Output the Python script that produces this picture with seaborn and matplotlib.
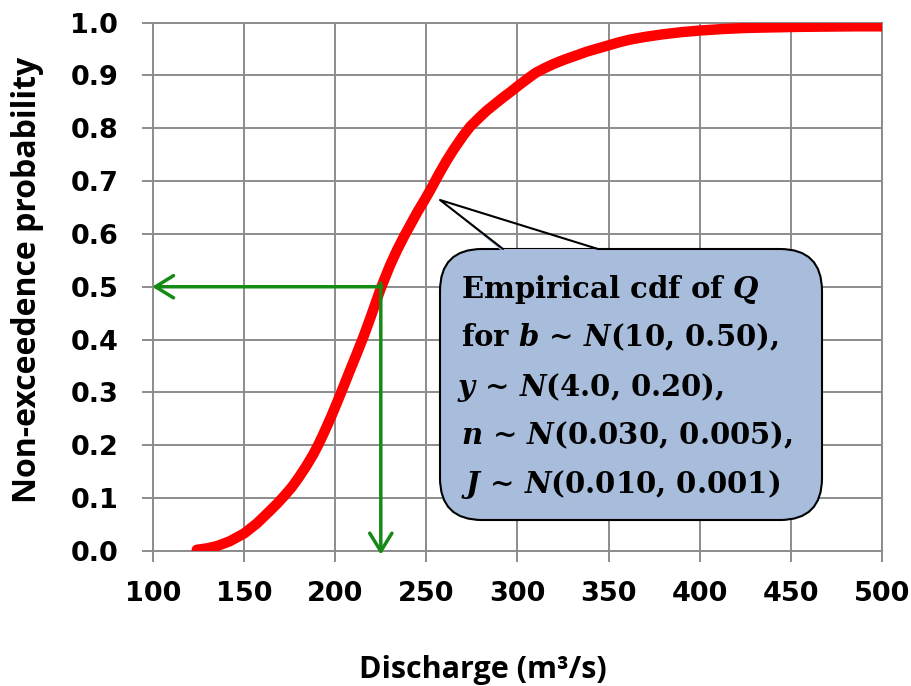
import numpy as np
import pandas as pd
import seaborn as sns
import matplotlib.pyplot as plt
from matplotlib.patches import FancyBboxPatch, Polygon

# empirical cdf of discharge
discharge = [124, 130, 135, 142, 150, 157, 163, 168, 172, 176, 180, 184, 188, 191, 194,
             198, 201, 205, 208, 212, 216, 220, 225, 230, 234, 238, 242, 245, 249, 252,
             257, 261, 265, 270, 274, 279, 283, 288, 292, 297, 301, 306, 310, 315, 320,
             325, 329, 334, 338, 344, 350, 356, 362, 370, 380, 390, 400, 413, 426, 440,
             455, 470, 485, 500]
prob = [0.002, 0.005, 0.009, 0.018, 0.033, 0.052, 0.072, 0.089, 0.104, 0.120, 0.139, 0.160, 0.183, 0.203, 0.225,
        0.256, 0.281, 0.315, 0.341, 0.375, 0.410, 0.448, 0.497, 0.540, 0.570, 0.597, 0.622, 0.641, 0.664, 0.682,
        0.714, 0.738, 0.760, 0.785, 0.803, 0.820, 0.833, 0.847, 0.858, 0.871, 0.882, 0.895, 0.905, 0.914, 0.922,
        0.929, 0.934, 0.940, 0.945, 0.951, 0.957, 0.963, 0.968, 0.973, 0.978, 0.982, 0.985, 0.988, 0.990, 0.991,
        0.992, 0.9925, 0.993, 0.993]

median_q = 225
median_p = 0.5

x_ticks = [100, 150, 200, 250, 300, 350, 400, 450, 500]
y_ticks = [0.0, 0.1, 0.2, 0.3, 0.4, 0.5, 0.6, 0.7, 0.8, 0.9, 1.0]

callout_lines = [
    r"Empirical cdf of $Q$",
    r"for $b$ ~ $N$(10, 0.50),",
    r"$y$ ~ $N$(4.0, 0.20),",
    r"$n$ ~ $N$(0.030, 0.005),",
    r"$J$ ~ $N$(0.010, 0.001)",
]

df = pd.DataFrame({"Q": discharge, "P": prob})

sns.set_theme(style="white")
plt.rcParams["mathtext.fontset"] = "custom"
plt.rcParams["mathtext.rm"] = "DejaVu Serif:bold"
plt.rcParams["mathtext.it"] = "DejaVu Serif:bold:italic"
plt.rcParams["text.color"] = "black"
plt.rcParams["axes.labelcolor"] = "black"

grid_col = "#8c8c8c"
green = "#158a15"
label_font = "Open Sans"

fig = plt.figure(figsize=(9.11, 6.86), dpi=100)
ax = fig.add_axes([0.168, 0.197, 0.800, 0.770])

sns.lineplot(data=df, x="Q", y="P", ax=ax, color="#ff0000", lw=7.5,
             sort=False, estimator=None, solid_capstyle="round", zorder=3)

ax.set_xlim(100, 500)
ax.set_ylim(0, 1)
ax.set_xticks(x_ticks)
ax.set_yticks(y_ticks)
ax.set_xticklabels([str(t) for t in x_ticks])
ax.set_yticklabels([f"{t:.1f}" for t in y_ticks])
ax.grid(True, color=grid_col, lw=1.4)
for s in ax.spines.values():
    s.set_color(grid_col)
    s.set_linewidth(1.4)
ax.tick_params(axis="both", direction="out", length=8, width=1.4, color=grid_col,
               labelcolor="black", left=True, bottom=True)
ax.tick_params(axis="x", pad=14)
ax.tick_params(axis="y", pad=17)
for lab in ax.get_xticklabels() + ax.get_yticklabels():
    lab.set_fontfamily("DejaVu Sans")
    lab.set_fontweight("bold")
    lab.set_fontsize(19.5)

ax.set_xlabel("Discharge (m³/s)", fontfamily=label_font, fontweight="bold", fontsize=22)
ax.set_ylabel("Non-exceedence probability", fontfamily=label_font, fontweight="bold", fontsize=23)
ax.xaxis.set_label_coords(0.453, -0.197)
ax.yaxis.set_label_coords(-0.150, 0.513)

# green arrows from the median
arrow_kw = dict(arrowstyle="->,head_length=0.65,head_width=0.4", color=green, lw=2.5,
                shrinkA=0, shrinkB=0, mutation_scale=20)
ax.annotate("", xy=(99.5, median_p), xytext=(median_q + 0.5, median_p),
            arrowprops=arrow_kw, zorder=4, annotation_clip=False)
ax.annotate("", xy=(median_q, -0.007), xytext=(median_q, median_p + 0.007),
            arrowprops=arrow_kw, zorder=4, annotation_clip=False)

# callout box (inches in figure space)
tr = fig.dpi_scale_trans
fill = "#a7bddb"
box = FancyBboxPatch((4.40, 1.66), 3.82, 2.71, boxstyle="round,pad=0,rounding_size=0.42",
                     transform=tr, facecolor=fill, edgecolor="black", lw=1.5, zorder=5)
fig.add_artist(box)
wedge = Polygon([(4.40, 4.86), (5.03, 4.37), (5.98, 4.37), (5.98, 4.34), (5.03, 4.34)],
                closed=True, transform=tr, facecolor=fill, edgecolor="none", zorder=6)
fig.add_artist(wedge)
fig.add_artist(plt.Line2D([5.03, 4.40, 5.98], [4.37, 4.86, 4.37], transform=tr,
                          color="black", lw=1.5, zorder=7))

for i, line in enumerate(callout_lines):
    x0 = 4.61 if i != 2 else 4.57
    fig.text(x0, 3.88 - i * 0.488, line, transform=tr, fontfamily="DejaVu Serif",
             fontweight="bold", fontsize=21, va="baseline", ha="left", zorder=8)

fig.savefig("out.png", dpi=100)
